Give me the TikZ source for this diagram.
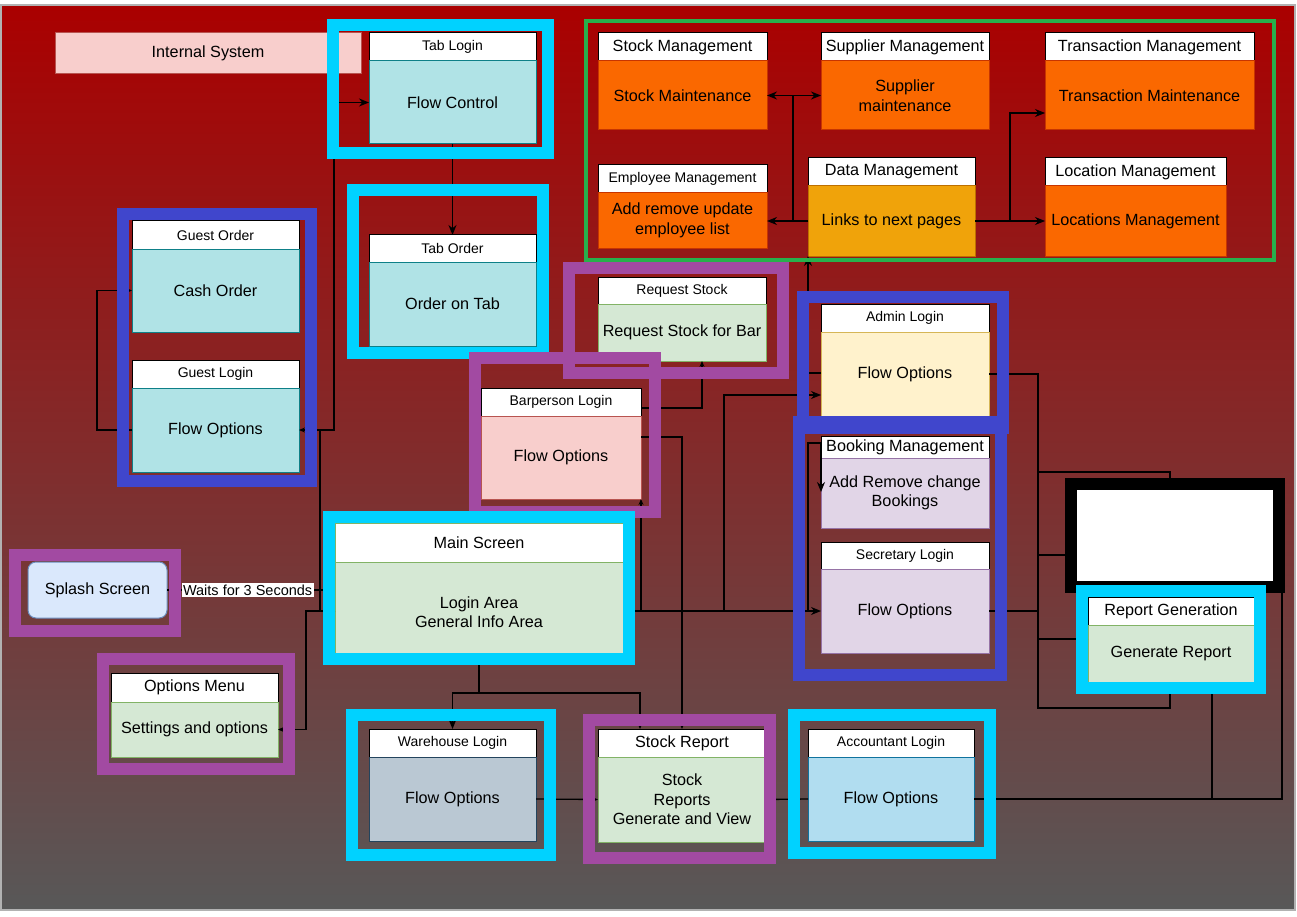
\documentclass[tikz,border=0pt]{standalone}
\usepackage{fontspec}
\setmainfont{Liberation Sans}
\usetikzlibrary{arrows.meta}
\definecolor{bgtop}{RGB}{170,0,0}
\definecolor{bgbot}{RGB}{88,88,88}
\definecolor{cyanF}{RGB}{0,210,255}
\definecolor{blueF}{RGB}{64,70,204}
\definecolor{purpF}{RGB}{162,74,162}
\definecolor{greenF}{RGB}{40,176,76}
\definecolor{tealF}{HTML}{B0E3E6}\definecolor{tealD}{HTML}{0E8088}
\definecolor{orangeF}{HTML}{FA6800}\definecolor{orangeD}{HTML}{C73500}
\definecolor{amberF}{HTML}{F0A30A}\definecolor{amberD}{HTML}{BD7000}
\definecolor{lgreenF}{HTML}{D5E8D4}\definecolor{lgreenD}{HTML}{82B366}
\definecolor{pinkF}{HTML}{F8CECC}\definecolor{pinkD}{HTML}{B85450}
\definecolor{yelF}{HTML}{FFF2CC}\definecolor{yelD}{HTML}{D6B656}
\definecolor{lpurF}{HTML}{E1D5E7}\definecolor{lpurD}{HTML}{9673A6}
\definecolor{greyF}{HTML}{BAC8D3}\definecolor{greyD}{HTML}{23445D}
\definecolor{lblueF}{HTML}{B1DDF0}\definecolor{lblueD}{HTML}{10739E}
\definecolor{splF}{HTML}{DAE8FC}\definecolor{splD}{HTML}{6C8EBF}
\newcommand\fsL{\fontsize{16.2}{19.5}\selectfont}
\newcommand\fsS{\fontsize{14}{16}\selectfont}
\tikzset{
  every node/.style={inner sep=0pt, outer sep=0pt},
  hd/.style={draw=black, fill=white, line width=1pt, anchor=north west, font=\fsS},
  hdL/.style={hd, font=\fsL},
  bd/.style={line width=1pt, anchor=north west, align=center, font=\fsL},
  tealB/.style={bd, fill=tealF, draw=tealD},
  orangeB/.style={bd, fill=orangeF, draw=orangeD},
  amberB/.style={bd, fill=amberF, draw=amberD},
  greenB/.style={bd, fill=lgreenF, draw=lgreenD},
  pinkB/.style={bd, fill=pinkF, draw=pinkD},
  yelB/.style={bd, fill=yelF, draw=yelD},
  purB/.style={bd, fill=lpurF, draw=lpurD},
  greyB/.style={bd, fill=greyF, draw=greyD},
  lblueB/.style={bd, fill=lblueF, draw=lblueD},
  edge/.style={draw=black, line width=1.3pt},
  bigtip/.tip={Stealth[length=10pt,width=8pt]},
  smalltip/.tip={Stealth[length=6pt,width=5pt]},
  frC/.style={draw=cyanF, line width=12pt},
  frB/.style={draw=blueF, line width=12pt},
  frP/.style={draw=purpF, line width=12pt},
  frG/.style={draw=greenF, line width=3.5pt},
  lbl/.style={fill=white, inner sep=1.5pt, font=\fontsize{14.5}{16}\selectfont},
}
\begin{document}
\begin{tikzpicture}[x=1pt,y=-1pt]
\useasboundingbox (0,0) rectangle (1297,917);
\fill[white] (0,0) rectangle (1297,917);
\shade[top color=bgtop, bottom color=bgbot] (1,5) rectangle (1295,910);
\draw[gray!60, line width=1.5pt] (1,5) rectangle (1295,910);

% ---------- nodes ----------
\node[draw=pinkD, fill=pinkF, line width=1pt, minimum width=306pt, minimum height=41pt, anchor=north west, font=\fsL] (intsys) at (55,33) {Internal System};

\node[hd, minimum width=167pt, minimum height=28pt] (tlh) at (369,33) {Tab Login};
\node[tealB, minimum width=167pt, minimum height=83pt] (fc) at (tlh.south west) {Flow Control};

\node[hd, minimum width=167pt, minimum height=27pt] (toh) at (369,235) {Tab Order};
\node[tealB, minimum width=167pt, minimum height=84pt] (ot) at (toh.south west) {Order on Tab};

\node[hd, minimum width=167pt, minimum height=28pt] (goh) at (132,221) {Guest Order};
\node[tealB, minimum width=167pt, minimum height=83pt] (go) at (goh.south west) {Cash Order};

\node[hd, minimum width=167pt, minimum height=28pt] (glh) at (132,360) {Guest Login};
\node[tealB, minimum width=167pt, minimum height=84pt] (gl) at (glh.south west) {Flow Options};

\node[hd, minimum width=168pt, minimum height=27pt] (rsh) at (598,277) {Request Stock};
\node[greenB, minimum width=168pt, minimum height=57pt] (rs) at (rsh.south west) {Request Stock for Bar};

\node[hd, minimum width=160pt, minimum height=28pt] (bph) at (481,388) {Barperson Login};
\node[pinkB, minimum width=160pt, minimum height=83pt] (bp) at (bph.south west) {Flow Options};

\node[hdL, draw=lgreenD, minimum width=288pt, minimum height=39pt] (msh) at (335,523) {Main Screen};
\node[greenB, minimum width=288pt, minimum height=91pt] (ms) at (msh.south west) {\\[2pt]Login Area\\General Info Area};

\node[draw=splD, fill=splF, rounded corners=8pt, line width=1pt, minimum width=139pt, minimum height=56pt, anchor=north west, font=\fsL] (spl) at (28,562) {Splash Screen};

\node[hdL, minimum width=167pt, minimum height=29pt] (omh) at (111,673) {Options Menu};
\node[greenB, minimum width=167pt, minimum height=55pt] (om) at (omh.south west) {Settings and options};

\node[hd, minimum width=167pt, minimum height=28pt] (whh) at (369,729) {Warehouse Login};
\node[greyB, minimum width=167pt, minimum height=84pt] (wh) at (whh.south west) {Flow Options};

\node[hdL, minimum width=168pt, minimum height=28pt] (srh) at (598,729) {Stock Report};
\node[greenB, minimum width=168pt, minimum height=85pt] (sr) at (srh.south west) {Stock\\Reports\\Generate and View};

\node[hd, minimum width=166pt, minimum height=28pt] (ach) at (808,729) {Accountant Login};
\node[lblueB, minimum width=166pt, minimum height=84pt] (ac) at (ach.south west) {Flow Options};

\node[hd, minimum width=168pt, minimum height=28pt] (adh) at (821,304) {Admin Login};
\node[yelB, minimum width=168pt, minimum height=84pt] (ad) at (adh.south west) {Flow Options};

\node[hdL, minimum width=168pt, minimum height=22pt] (bmh) at (821,436) {Booking Management};
\node[purB, minimum width=168pt, minimum height=70pt] (bm) at (bmh.south west) {Add Remove change\\Bookings};

\node[hd, minimum width=168pt, minimum height=27pt] (seh) at (821,542) {Secretary Login};
\node[purB, minimum width=168pt, minimum height=84pt] (se) at (seh.south west) {Flow Options};

\node[draw=black, fill=white, line width=12pt, minimum width=208pt, minimum height=103pt, anchor=north west] (wbox) at (1071,484) {};

\node[hdL, minimum width=166pt, minimum height=28pt] (rgh) at (1088,597) {Report Generation};
\node[greenB, minimum width=166pt, minimum height=57pt] (rg) at (rgh.south west) {Generate Report};

% green group
\node[hdL, minimum width=169pt, minimum height=28pt] (smh) at (598,33) {Stock Management};
\node[orangeB, minimum width=169pt, minimum height=69pt] (sm) at (smh.south west) {Stock Maintenance};
\node[hdL, minimum width=168pt, minimum height=28pt] (suh) at (821,33) {Supplier Management};
\node[orangeB, minimum width=168pt, minimum height=69pt] (su) at (suh.south west) {Supplier\\maintenance};
\node[hdL, minimum width=209pt, minimum height=28pt] (trh) at (1045,33) {Transaction Management};
\node[orangeB, minimum width=209pt, minimum height=69pt] (tr) at (trh.south west) {Transaction Maintenance};
\node[hd, minimum width=169pt, minimum height=28pt] (emh) at (598,165) {Employee Management};
\node[orangeB, minimum width=169pt, minimum height=55pt] (em) at (emh.south west) {Add remove update\\employee list};
\node[hdL, minimum width=167pt, minimum height=28pt] (dmh) at (808,158) {Data Management};
\node[amberB, minimum width=167pt, minimum height=70pt] (dm) at (dmh.south west) {Links to next pages};
\node[hdL, minimum width=181pt, minimum height=28pt] (lmh) at (1045,158) {Location Management};
\node[orangeB, minimum width=181pt, minimum height=70pt] (lm) at (lmh.south west) {Locations Management};

% ---------- connectors ----------
\draw[edge,-{smalltip}] (ms.west |- 0,611) -- (320,611) |- (gl.east);
\draw[edge,-{bigtip}] (ms.west |- 0,611) -- (320,611) -- (320,430) -- (334,430) |- (fc.west);
\draw[edge,-{smalltip}] (ms.west |- 0,611) -- (306,611) |- (om.east);
\draw[edge,-{smalltip}] (spl.east) -- (ms.west |- spl.east) node[lbl, pos=0.48] {Waits for 3 Seconds};
\draw[edge,-{smalltip}] (gl.west) -- ++(-35,0) |- (go.west);
\draw[edge,-{bigtip}] (fc.south) -- (toh.north);
\draw[edge,-{bigtip}] (ms.south) -- (ms.south |- 0,693) -| (whh.north);
\draw[edge,-{smalltip}] (ms.south) -- (ms.south |- 0,693) -| (640,0 |- srh.north);
\draw[edge,-{smalltip}] (bp.east |- 0,437) -| (srh.north);
\draw[edge,-{smalltip}] (bph.east |- 0,408) -| (702,0 |- rs.south);
\draw[edge,-{smalltip}] (ms.east |- 0,611) -| (bp.south east);
\draw[edge,-{bigtip}] (ms.east |- 0,611) -| (724,395) -- (ad.west |- 0,395);
\draw[edge,-{bigtip}] (ms.east |- 0,611) -- (se.west);
\draw[edge,-{bigtip}] (ms.east |- 0,611) -- (808,611) |- (bmh.west |- 0,443) -- (bm.west |- 0,492);
\draw[edge,-{bigtip}] (ad.west |- 0,373) -| (808,0 |- dm.south);
\draw[edge] (ad.east |- 0,374) -- (1038,374) |- (1170,708) -- (1170,0 |- rg.south);
\draw[edge] (ad.east |- 0,374) -- (1038,374) |- (1170,472) -- (1170,0 |- wbox.north);
\draw[edge] (ad.east |- 0,374) -- (1038,374) |- (wbox.west |- 0,555);
\draw[edge,-{smalltip}] (se.east) -- (1038,0 |- se.east) |- (rg.west |- 0,639);
\draw[edge] (ac.east) -| (1212,0 |- rg.south);
\draw[edge] (ac.east) -| (1282,0 |- wbox.south);
\draw[edge,-{smalltip}] (wh.east) -- (sr.west);
\draw[edge,-{smalltip}] (ac.west) -- (sr.east);
% green group connectors
\draw[edge,-{bigtip}] (dm.west) -- (em.east |- dm.west);
\draw[edge,-{bigtip}] (dm.west) -- (793,0 |- dm.west) |- (sm.east);
\draw[edge,-{bigtip}] (dm.west) -- (793,0 |- dm.west) |- (su.west);
\draw[edge,-{bigtip}] (dm.east) -- (lm.west |- dm.east);
\draw[edge,-{bigtip}] (dm.east) -- (1010,0 |- dm.east) |- (tr.west |- 0,113);

% ---------- frames ----------
\draw[frG] (586,21) rectangle (1274,260);
\draw[frC] (333,25) rectangle (548,153);
\draw[frC] (353,190) rectangle (543,353);
\draw[frB] (123,214) rectangle (311,481);
\draw[frP] (569,268) rectangle (783,373);
\draw[frP] (475,358) rectangle (655,512);
\draw[frC] (329,517) rectangle (629,659);
\draw[frP] (15,555) rectangle (175,631);
\draw[frP] (103,659) rectangle (289,769);
\draw[frC] (352,715) rectangle (550,855);
\draw[frP] (589,720) rectangle (770,858);
\draw[frC] (794,715) rectangle (990,853);
\draw[frB] (803,297) rectangle (1003,428);
\draw[frB] (799,422) rectangle (1001,675);
\draw[frC] (1082,591) rectangle (1260,688);
\end{tikzpicture}
\end{document}
